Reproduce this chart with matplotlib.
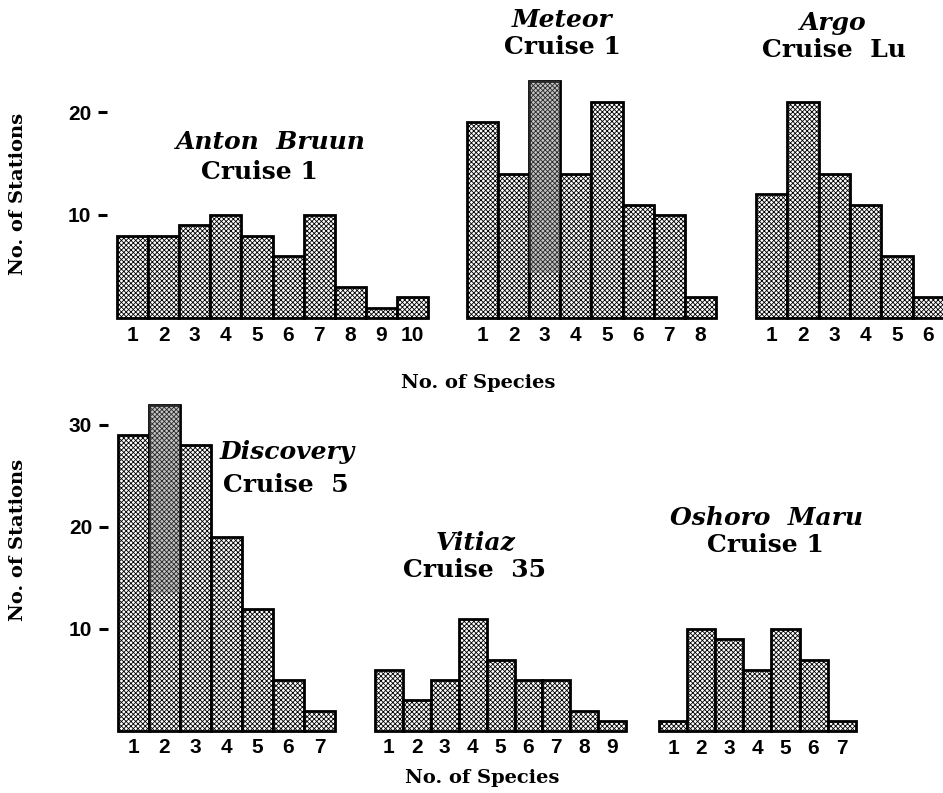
import numpy as np
import matplotlib.pyplot as plt
from matplotlib.patches import Rectangle

# counts of stations per number of species
anton_counts = [8, 8, 9, 10, 8, 6, 10, 3, 1, 2]
meteor_counts = [19, 14, 23, 14, 21, 11, 10, 2]
argo_counts = [12, 21, 14, 11, 6, 2]
discovery_counts = [29, 32, 28, 19, 12, 5, 2]
vitiaz_counts = [6, 3, 5, 11, 7, 5, 5, 2, 1]
oshoro_counts = [1, 10, 9, 6, 10, 7, 1]

# shaded (darkened) parts of single bars: (species, from, to)
meteor_shade = (3, 4.4, 23)
discovery_shade = (2, 13.5, 32)

top_yticks = [10, 20]
bottom_yticks = [10, 20, 30]

W, H = 943, 793
plt.rcParams['hatch.linewidth'] = 0.6
SERIF = 'DejaVu Serif'
SANS = 'Liberation Sans'

fig = plt.figure(figsize=(W / 100, H / 100), dpi=100)
fig.patch.set_facecolor('white')


def panel(counts, bar_left, bar_w, base, scale, ymax, yticks=None,
          ax_left=None, pad=6, shade=None):
    n = len(counts)
    x = np.arange(1, n + 1)
    if ax_left is None:
        ax_left = bar_left
    ax_right = bar_left + n * bar_w
    x0 = 0.5 - (bar_left - ax_left) / bar_w
    ax = fig.add_axes([ax_left / W, 1 - base / H, (ax_right - ax_left) / W,
                       ymax * scale / H])
    ax.bar(x, counts, width=1.0, facecolor='white', edgecolor='black',
           linewidth=2.0, hatch='xxxxxxx', clip_on=False)
    if shade is not None:
        s, lo, hi = shade
        ax.add_patch(Rectangle((s - 0.5, lo), 1, hi - lo, facecolor='#6a6a6a',
                               edgecolor='none', alpha=0.4, clip_on=False,
                               zorder=3))
    ax.set_xlim(x0, n + 0.5)
    ax.set_ylim(0, ymax)
    ax.set_xticks(x)
    ax.set_xticklabels([str(v) for v in x], fontfamily=SANS,
                       fontweight='bold', fontsize=15)
    ax.tick_params(axis='x', length=0, pad=pad)
    if yticks:
        ax.set_yticks(yticks)
        ax.set_yticklabels([str(v) for v in yticks], fontfamily=SANS,
                           fontweight='bold', fontsize=15)
        ax.tick_params(axis='y', length=6.5, width=2.2, direction='out', pad=5)
    else:
        ax.set_yticks([])
    for sp in ax.spines.values():
        sp.set_visible(False)
    ax.patch.set_alpha(0)
    return ax


def ftext(x, y, s, italic=False, size=18, rot=0):
    fig.text(x / W, 1 - y / H, s, ha='center', va='center', rotation=rot,
             fontfamily=SERIF, fontweight='bold',
             fontstyle='italic' if italic else 'normal', fontsize=size)


# top row
panel(anton_counts, 117, 31.1, 318, 10.3, 25, top_yticks, ax_left=107, pad=6)
panel(meteor_counts, 467, 31.1, 318, 10.3, 25, pad=6, shade=meteor_shade)
panel(argo_counts, 756, 31.3, 318, 10.3, 25, pad=6)

# bottom row
panel(discovery_counts, 118, 31.0, 731, 10.2, 33, bottom_yticks, ax_left=108,
      pad=5, shade=discovery_shade)
panel(vitiaz_counts, 375, 27.9, 731, 10.2, 33, pad=5)
panel(oshoro_counts, 659, 28.1, 731, 10.2, 33, pad=6)

# titles
ftext(271, 142, 'Anton  Bruun', italic=True)
ftext(259, 172, 'Cruise 1')
ftext(562, 20, 'Meteor', italic=True)
ftext(562, 47, 'Cruise 1')
ftext(833, 23, 'Argo', italic=True)
ftext(834, 50, 'Cruise  Lu')
ftext(287, 452, 'Discovery', italic=True)
ftext(286, 485, 'Cruise  5')
ftext(476, 543, 'Vitiaz', italic=True)
ftext(474, 570, 'Cruise  35')
ftext(766, 518, 'Oshoro  Maru', italic=True)
ftext(765, 545, 'Cruise 1')

# axis labels
ftext(18, 194, 'No. of Stations', size=14, rot=90)
ftext(18, 540, 'No. of Stations', size=14, rot=90)
ftext(478, 383, 'No. of Species', size=14)
ftext(482, 778, 'No. of Species', size=14)

fig.savefig('out.png', dpi=100, facecolor='white')
